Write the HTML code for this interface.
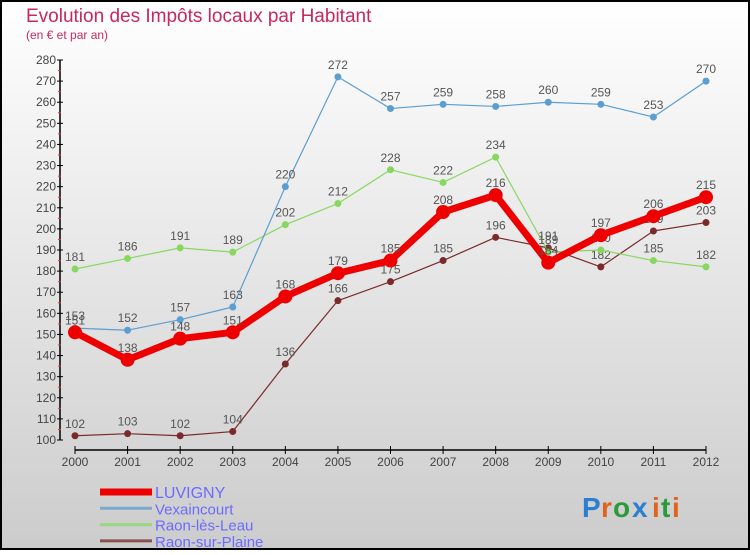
<!DOCTYPE html>
<html><head><meta charset="utf-8"><style>
body{margin:0}
#c{width:750px;height:550px;position:relative;font-family:"Liberation Sans",sans-serif}
</style></head><body>
<div id="c">
<svg width="750" height="550" id="svg">
<defs><linearGradient id="bg" x1="0" y1="0" x2="0" y2="1"><stop offset="0" stop-color="#ffffff"/><stop offset="1" stop-color="#cccccc"/></linearGradient></defs>
<rect x="1" y="1" width="748" height="548" fill="url(#bg)" stroke="#000" stroke-width="2"/>
<text x="26" y="22" font-size="19" fill="#c8285a">Evolution des Impôts locaux par Habitant</text>
<text x="26" y="39" font-size="12" fill="#c8285a">(en € et par an)</text>
<g id="axes"></g>
<g id="series"></g>
<g id="legend"></g>
<g font-size="28" font-weight="bold">
<text x="582" y="517" fill="#2a7fd0">P</text><text x="601" y="517" fill="#e0641e">r</text><text x="613" y="517" fill="#2a9a3a">o</text><text x="632" y="517" fill="#2a7fd0">x</text><text x="652" y="517" fill="#e0641e">i</text><text x="661" y="517" fill="#2a9a3a">t</text><text x="672" y="517" fill="#e0641e">i</text>
</g>
</svg>
</div>
<script>
const years=[2000,2001,2002,2003,2004,2005,2006,2007,2008,2009,2010,2011,2012];
const yTicks=[100,110,120,130,140,150,160,170,180,190,200,210,220,230,240,250,260,270,280];
const luvigny=[151,138,148,151,168,179,185,208,216,184,197,206,215];
const vexaincourt=[153,152,157,163,220,272,257,259,258,260,259,253,270];
const raonLesLeau=[181,186,191,189,202,212,228,222,234,189,190,185,182];
const raonSurPlaine=[102,103,102,104,136,166,175,185,196,191,182,199,203];
const NS="http://www.w3.org/2000/svg";
function X(i){return 75+i*(706-75)/12;}
function Y(v){return 440-(v-100)*(380/180);}
function mk(t,a,p){const e=document.createElementNS(NS,t);for(const k in a)e.setAttribute(k,a[k]);p.appendChild(e);return e;}
const ax=document.getElementById('axes');
let l=mk('line',{x1:60,y1:Y(280),x2:60,y2:Y(100),stroke:'#000','stroke-width':1.5},ax);


const yMax=yTicks[yTicks.length-1];
yTicks.forEach(v=>{
 const t=mk('line',{x1:57,y1:Y(v),x2:63,y2:Y(v),stroke:'#000'},ax);
 
 
 if(v<yMax){
  const m=mk('line',{x1:58,y1:Y(v+5),x2:61,y2:Y(v+5),stroke:'#e33'},ax);
  
  
 }
 const tx=mk('text',{x:56,y:Y(v)+4,'text-anchor':'end','font-size':12,fill:'#444'},ax);
 tx.textContent=v;
 
 
});
l=mk('line',{x1:X(0),y1:450,x2:X(12),y2:450,stroke:'#000','stroke-width':1.5},ax);


years.forEach((yr,i)=>{
 const t=mk('line',{x1:X(i),y1:446,x2:X(i),y2:454,stroke:'#000'},ax);
 
 
 const tx=mk('text',{x:X(i),y:466,'text-anchor':'middle','font-size':12,fill:'#444'},ax);
 tx.textContent=yr;
 
 
});
const sg=document.getElementById('series');
function draw(data,color,w,r,name){
 const g=mk('g',{},sg);
 
 
 const p=mk('polyline',{points:data.map((v,i)=>X(i)+','+Y(v)).join(' '),fill:'none',stroke:color,'stroke-width':w,'stroke-linejoin':'round'},g);
 
 
 data.forEach((v,i)=>{
  const c=mk('circle',{cx:X(i),cy:Y(v),r:r,fill:color},g);
  
  
  const t=mk('text',{x:X(i),y:Y(v)-8,'text-anchor':'middle','font-size':12,fill:'#555'},g);
  t.textContent=v;
  
  
 });
}
draw(raonSurPlaine,'#7a2a2a',1.2,3.5,'raon-sur-plaine');
draw(raonLesLeau,'#88d860',1.2,3.5,'raon-les-leau');
draw(vexaincourt,'#5c9ed0',1.2,3.5,'vexaincourt');
draw(luvigny,'#ee0000',7,7,'luvigny');
const lg=document.getElementById('legend');
const names=['LUVIGNY','Vexaincourt','Raon-lès-Leau','Raon-sur-Plaine'];
const cols=['#ee0000','#7aa8d0','#98d880','#8a5050'];
const ws=[7,3,3,3];
names.forEach((n,i)=>{
 const y=492+i*16.3;
 const ln=mk('line',{x1:100,y1:y,x2:152,y2:y,stroke:cols[i],'stroke-width':ws[i]},lg);
 
 
 const t=mk('text',{x:155,y:y+6,'font-size':i==0?16:15,fill:'#6b6bff'},lg);
 t.textContent=n;
 
 
});
</script>
</body></html>
